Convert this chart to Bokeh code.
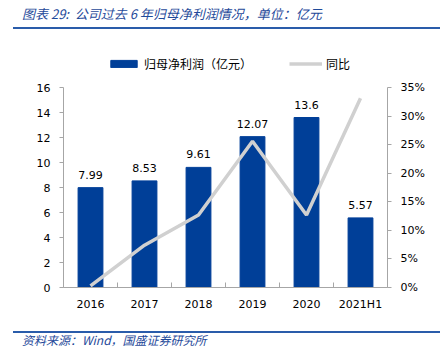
from bokeh.plotting import figure
from bokeh.layouts import column
from bokeh.models import (Range1d, LinearAxis, FixedTicker, PrintfTickFormatter,
                          Legend, LegendItem, ColumnDataSource, Div)
from bokeh.core.properties import value
from bokeh.embed import file_html
from bokeh.resources import INLINE

categories = ["2016", "2017", "2018", "2019", "2020", "2021H1"]
profit = [7.99, 8.53, 9.61, 12.07, 13.6, 5.57]
profit_labels = ["7.99", "8.53", "9.61", "12.07", "13.6", "5.57"]
yoy = [0.3, 7.4, 12.7, 25.6, 12.7, 33.1]
left_ticks = [0, 2, 4, 6, 8, 10, 12, 14, 16]
right_ticks = [0, 5, 10, 15, 20, 25, 30, 35]
title_text = "图表 29:&nbsp; 公司过去 6 年归母净利润情况，单位：亿元"
source_text = "资料来源：Wind，国盛证券研究所"

BLUE = "#003f98"
GREY = "#d0d0d0"
AXIS = "#a6a6a6"
TXT_BLUE = "#1f4a9a"
RULE_BLUE = "#2a5caa"

W = 440


def banner(height, text, text_top, rule_top, size):
    html = (
        f'<div style="position:relative;width:{W}px;height:{height}px;margin:0;padding:0;">'
        f'<div style="position:absolute;left:13px;right:0;top:{rule_top}px;height:2px;'
        f'background:{RULE_BLUE};"></div>'
        f'<span style="position:absolute;left:22px;top:{text_top}px;line-height:16px;'
        f"font-family:'Noto Sans CJK SC';font-style:italic;font-size:{size};"
        f'color:{TXT_BLUE};white-space:nowrap;">{text}</span>'
        f'</div>'
    )
    return Div(text=html, width=W, height=height, margin=0, sizing_mode="fixed")


header = banner(40, title_text, 6, 26.7, "13px")

xs = [i + 0.5 for i in range(len(categories))]
src = ColumnDataSource(dict(x=xs, profit=profit, lab=profit_labels, yoy=yoy))

MH, MT, MB = 280, 10, 33           # main figure height, top / bottom border
frame_h = MH - MT - MB
axis_px = 200                      # pixel height of the 0..16 / 0..35% axes
y_top = left_ticks[-1] * frame_h / axis_px
pct_top = right_ticks[-1] * frame_h / axis_px

p = figure(width=W, height=MH, output_backend="svg", toolbar_location=None, sizing_mode="fixed",
           x_range=Range1d(0, len(categories)), y_range=Range1d(0, y_top),
           min_border_left=63, min_border_right=W - 387, min_border_top=MT, min_border_bottom=MB)
p.outline_line_color = None
p.xgrid.visible = False
p.ygrid.visible = False
p.extra_y_ranges = {"pct": Range1d(0, pct_top)}

bars = p.vbar(x="x", top="profit", width=0.46, source=src, fill_color=BLUE, line_color=BLUE)
line = p.line(x="x", y="yoy", source=src, y_range_name="pct", line_color=GREY, line_width=3.5)
p.text(x="x", y="profit", text="lab", source=src, text_align="center", text_baseline="alphabetic",
       y_offset=-13, text_font=value("DejaVu Sans"), text_font_size="11px", text_color="#000000")

xa = p.xaxis[0]
xa.ticker = FixedTicker(ticks=xs, minor_ticks=list(range(0, len(categories) + 1)))
xa.major_label_overrides = {x: c for x, c in zip(xs, categories)}
xa.major_tick_line_color = None
xa.minor_tick_in = 5
xa.minor_tick_out = 0
xa.minor_tick_line_color = AXIS
xa.axis_line_color = AXIS
xa.major_label_standoff = 4

ya = p.yaxis[0]
ya.ticker = FixedTicker(ticks=left_ticks)
ya.bounds = (left_ticks[0], left_ticks[-1])
ya.major_tick_in = 0
ya.major_tick_out = 4
ya.minor_tick_line_color = None
ya.axis_line_color = AXIS
ya.major_tick_line_color = AXIS
ya.major_label_standoff = 9

ra = LinearAxis(y_range_name="pct", ticker=FixedTicker(ticks=right_ticks),
                formatter=PrintfTickFormatter(format="%d%%"),
                bounds=(right_ticks[0], right_ticks[-1]))
ra.major_tick_in = 0
ra.major_tick_out = 4
ra.minor_tick_line_color = None
ra.axis_line_color = AXIS
ra.major_tick_line_color = AXIS
ra.major_label_standoff = 9
p.add_layout(ra, "right")

for ax in (xa, ya, ra):
    ax.major_label_text_font = "DejaVu Sans"
    ax.major_label_text_font_size = "11px"
    ax.major_label_text_color = "#000000"

legend = Legend(items=[LegendItem(label="归母净利润（亿元）", renderers=[bars]),
                       LegendItem(label="同比", renderers=[line])],
                orientation="horizontal", location=(44, frame_h - 22),
                glyph_width=33, glyph_height=9, label_standoff=4, spacing=37,
                padding=0, margin=0, border_line_color=None, background_fill_alpha=0,
                label_text_font="Noto Sans CJK SC", label_text_font_size="12px",
                label_text_color="#000000", label_height=12)
p.add_layout(legend, "center")

footer = banner(32, source_text, 12, 11, "12px")

layout = column(header, p, footer, spacing=0, sizing_mode="fixed")
open("out.html", "w").write(file_html(layout, INLINE))
